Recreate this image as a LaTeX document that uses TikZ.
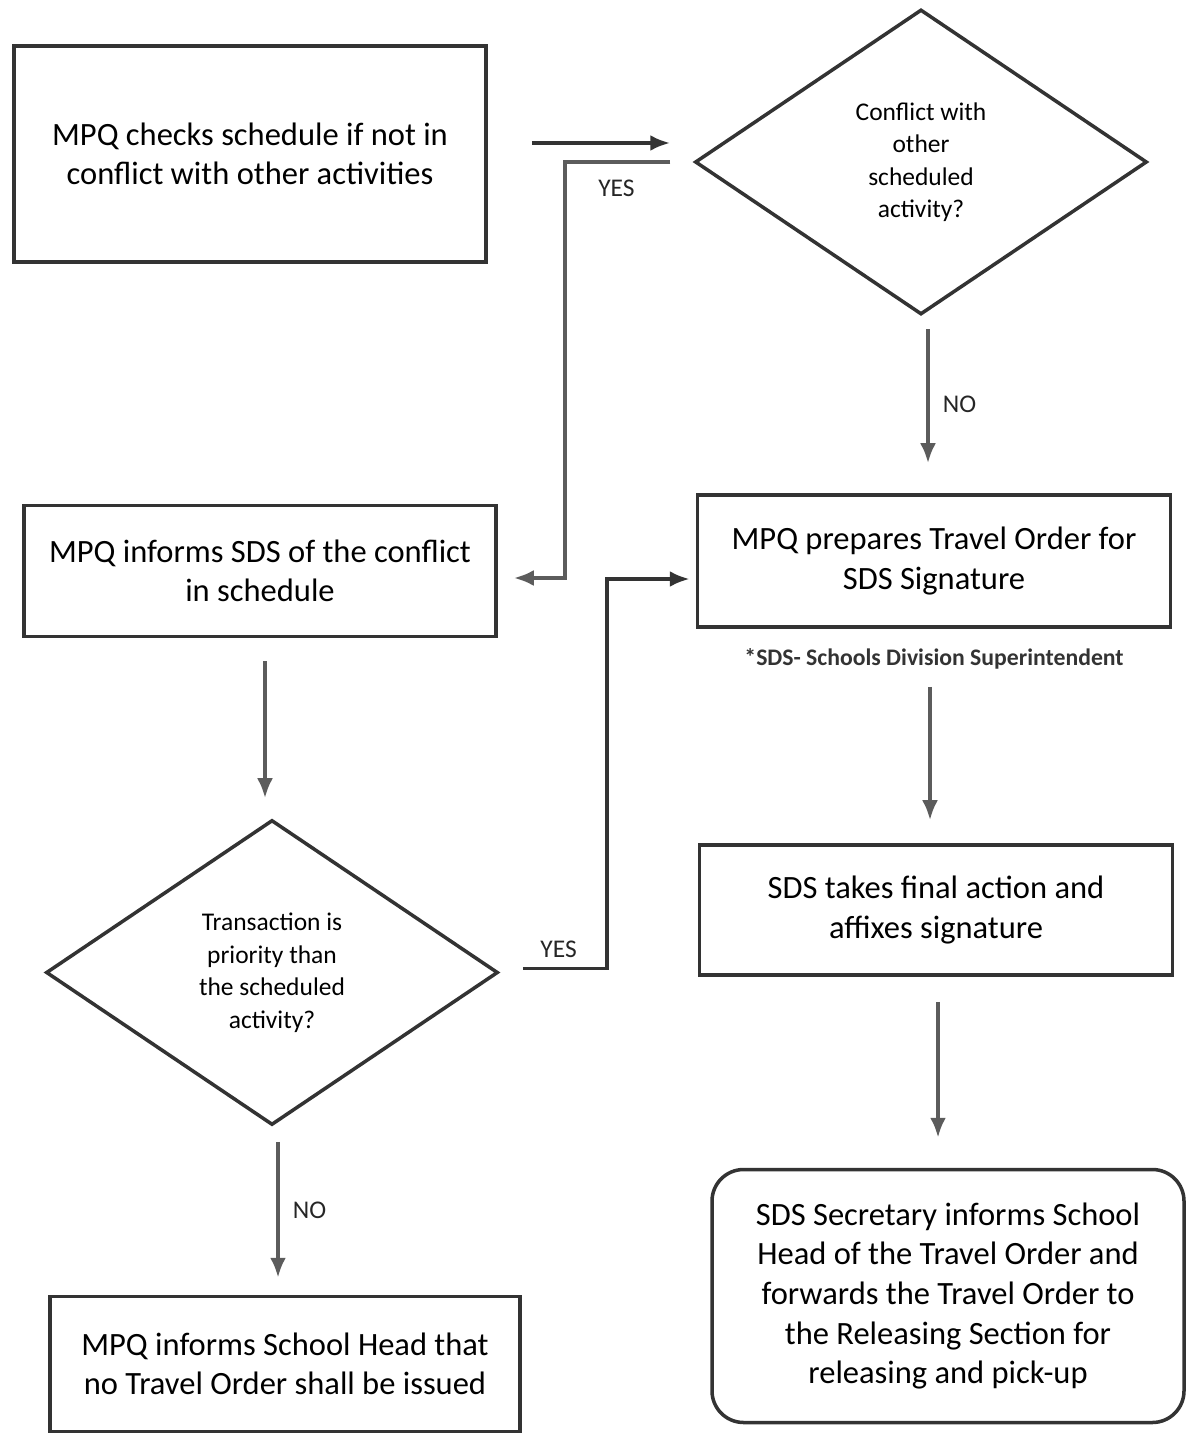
\documentclass[tikz,border=0pt]{standalone}
\usepackage{fontspec}
\setmainfont{Carlito}
\usetikzlibrary{shapes.geometric, arrows.meta, positioning}
\definecolor{inkline}{gray}{0.2}
\definecolor{inkarrow}{gray}{0.36}

\begin{document}
\begin{tikzpicture}[
      auto,
      block/.style={rectangle, draw=inkline, line width=2pt, text width=8.8cm, align=flush center, inner sep=0pt, font=\fontsize{18.5}{22.5}\selectfont},
      round_block/.style={block, rounded corners=18pt},
      decision/.style={diamond, draw=inkline, line width=2pt, inner sep=0pt, minimum width=9.04cm, minimum height=6.1cm, align=flush center, font=\fontsize{14.5}{18.5}\selectfont},
      line/.style={draw=inkarrow, -{Latex[length=4mm, width=3.2mm]}, line width=2.2pt},
      label_text/.style={font=\fontsize{14.5}{16}\selectfont, text=black!85}
  ]
  \useasboundingbox (0,0) rectangle (23.86,-28.76);

  \node [block, minimum width=9.44cm, minimum height=4.32cm] (check) at (5.0,-3.08) {MPQ checks schedule if not in\\conflict with other activities};
  \node [decision] (conflict) at (18.42,-3.24) {Conflict with\\other\\scheduled\\activity?};
  \node [block, minimum width=9.44cm, minimum height=2.62cm] (inform) at (5.2,-11.42) {MPQ informs SDS of the conflict\\in schedule};
  \node [block, minimum width=9.46cm, minimum height=2.64cm] (prepare) at (18.68,-11.22) {MPQ prepares Travel Order for\\SDS Signature};
  \node [below=0.28cm of prepare, font=\fontsize{13.5}{15}\selectfont\bfseries, text=black!80] (note) {*SDS- Schools Division Superintendent};
  \node [decision] (priority) at (5.44,-19.45) {Transaction is\\priority than\\the scheduled\\activity?};
  \node [block, minimum width=9.46cm, minimum height=2.6cm] (action) at (18.72,-18.2) {SDS takes final action and\\affixes signature};
  \node [block, minimum width=9.4cm, minimum height=2.7cm] (noissue) at (5.7,-27.28) {MPQ informs School Head that\\no Travel Order shall be issued};
  \node [round_block, minimum width=9.44cm, minimum height=5.06cm] (secretary) at (18.96,-25.92) {SDS Secretary informs School\\Head of the Travel Order and\\forwards the Travel Order to\\the Releasing Section for\\releasing and pick-up};

  \path [line, draw=inkline, shorten <=0.88cm, shorten >=0.46cm] ([yshift=2.2mm]check.east) -- ([yshift=2.2mm]check.east -| conflict.west);
  \path [line, shorten <=0.46cm, shorten >=0.32cm] (conflict.west) -- node[pos=0.6, below=6pt, label_text] {YES} ++(-2.56,0) |- ([yshift=-1.4mm]inform.east);
  \path [line, shorten <=0.26cm, shorten >=0.6cm] ([xshift=1.4mm]conflict.south) -- node[right=4pt, label_text] {NO} ([xshift=1.4mm]conflict.south |- prepare.north);
  \path [line, shorten <=0.46cm, shorten >=0.4cm] ([xshift=1mm]inform.south) -- ([xshift=1mm]inform.south |- priority.north);
  \path [line, draw=inkline, shorten <=0.46cm, shorten >=0.12cm] ([yshift=0.8mm]priority.east) -- node[pos=0.55, above=2pt, label_text] {YES} ++(2.14,0) |- ([yshift=-3.6mm]prepare.west);
  \path [line, shorten <=1.16cm, shorten >=0.46cm] ([xshift=-0.8mm]prepare.south) -- ([xshift=-0.8mm]prepare.south |- action.north);
  \path [line, shorten <=0.5cm, shorten >=0.6cm] ([xshift=0.4mm]action.south) -- ([xshift=0.4mm]action.south |- secretary.north);
  \path [line, shorten <=0.3cm, shorten >=0.34cm] ([xshift=1.2mm]priority.south) -- node[right=4pt, label_text] {NO} ([xshift=1.2mm]priority.south |- noissue.north);

\end{tikzpicture}
\end{document}
